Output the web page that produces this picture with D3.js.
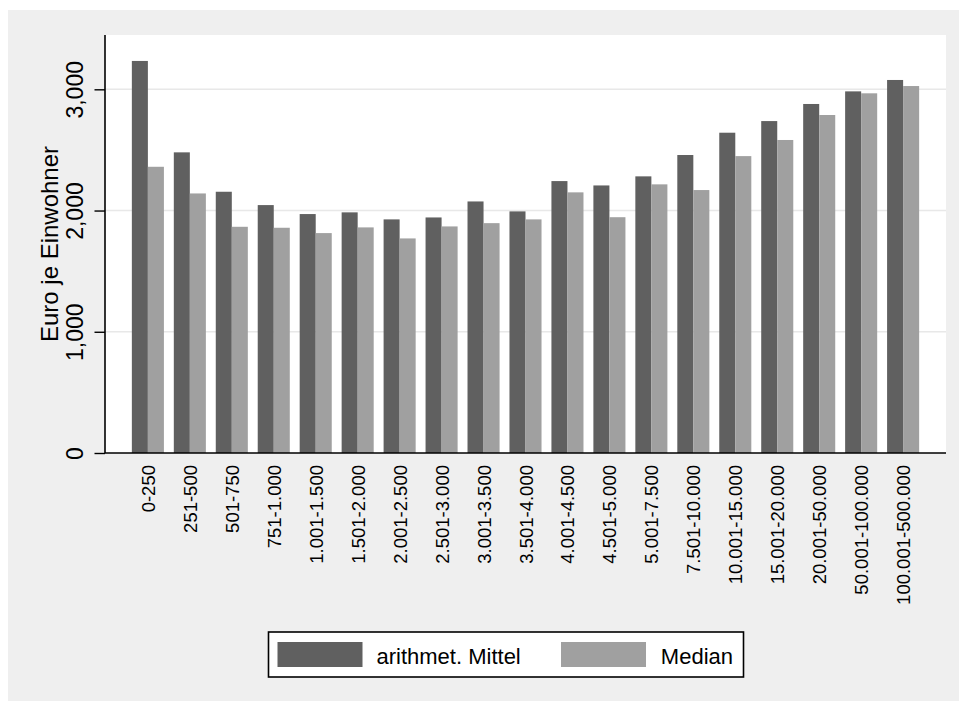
<!DOCTYPE html>
<html>
<head>
<meta charset="utf-8">
<script src="https://cdn.jsdelivr.net/npm/d3@7"></script>
<style>
  html, body { margin: 0; padding: 0; background: #fff; overflow: hidden; }
  svg { display: block; font-family: "Liberation Sans", Arial, sans-serif; }
</style>
</head>
<body>
<svg id="chart" width="959" height="701"></svg>
<script>
// Gemeindegrößenklassen (Einwohner)
const categories = [
  '0-250', '251-500', '501-750', '751-1.000', '1.001-1.500', '1.501-2.000',
  '2.001-2.500', '2.501-3.000', '3.001-3.500', '3.501-4.000', '4.001-4.500',
  '4.501-5.000', '5.001-7.500', '7.501-10.000', '10.001-15.000',
  '15.001-20.000', '20.001-50.000', '50.001-100.000', '100.001-500.000'
];
// Euro je Einwohner
const mittel = [3234, 2480, 2155, 2045, 1971, 1985, 1927, 1943, 2075, 1993,
  2243, 2207, 2282, 2458, 2642, 2738, 2879, 2983, 3077];
const median = [2361, 2141, 1866, 1858, 1814, 1861, 1770, 1869, 1896, 1927,
  2150, 1945, 2216, 2169, 2449, 2582, 2788, 2967, 3027];
const yTicks = [0, 1000, 2000, 3000];
const series = [
  { name: 'arithmet. Mittel', values: mittel, color: '#606060' },
  { name: 'Median', values: median, color: '#a0a0a0' }
];

const FONT = '"Liberation Sans", Arial, sans-serif';
const svg = d3.select('#chart');
const plot = { left: 105, right: 946, top: 35, bottom: 453 };

// outer gray background
svg.append('rect')
  .attr('x', 8).attr('y', 10).attr('width', 951).attr('height', 691)
  .attr('fill', '#efefef');

// plot region
svg.append('rect')
  .attr('x', plot.left).attr('y', plot.top)
  .attr('width', plot.right - plot.left).attr('height', plot.bottom - plot.top)
  .attr('fill', '#fff');

const x = d3.scaleBand()
  .domain(categories)
  .range([plot.left, plot.right])
  .paddingInner(0.236)
  .paddingOuter(0.64);

const xSub = d3.scaleBand()
  .domain(series.map(s => s.name))
  .range([0, x.bandwidth()]);

const y = d3.scaleLinear()
  .domain([0, 3448])
  .range([plot.bottom, plot.top]);

// gridlines
svg.append('g')
  .selectAll('line')
  .data(yTicks.filter(t => t > 0))
  .join('line')
  .attr('x1', plot.left).attr('x2', plot.right)
  .attr('y1', d => y(d)).attr('y2', d => y(d))
  .attr('stroke', '#e8e8e8').attr('stroke-width', 1.5);

// bars
const groups = svg.append('g')
  .selectAll('g')
  .data(categories)
  .join('g')
  .attr('transform', d => `translate(${x(d)},0)`);

groups.selectAll('rect')
  .data((d, i) => series.map(s => ({ key: s.name, v: s.values[i], color: s.color })))
  .join('rect')
  .attr('x', d => xSub(d.key))
  .attr('y', d => y(d.v))
  .attr('width', xSub.bandwidth())
  .attr('height', d => y(0) - y(d.v))
  .attr('fill', d => d.color);

// y axis
const yAxis = svg.append('g')
  .attr('transform', `translate(${plot.left},0)`)
  .call(d3.axisLeft(y).tickValues(yTicks).tickFormat(d3.format(',')).tickSize(10.5))
  .attr('font-family', FONT);
yAxis.select('.domain').attr('stroke', '#000').attr('stroke-width', 1.6)
  .attr('d', `M0,${plot.bottom}V${plot.top}`);
yAxis.selectAll('.tick line').attr('stroke', '#000').attr('stroke-width', 1.4);
yAxis.selectAll('.tick text')
  .attr('x', null).attr('dy', null)
  .attr('text-anchor', 'middle')
  .attr('transform', `translate(-22,0) rotate(-90)`)
  .attr('fill', '#000')
  .style('font-size', '23px');

// x axis
const xAxis = svg.append('g')
  .attr('transform', `translate(0,${plot.bottom})`)
  .call(d3.axisBottom(x).tickSize(0))
  .attr('font-family', FONT);
xAxis.select('.domain').attr('stroke', '#000').attr('stroke-width', 1.6)
  .attr('d', `M${plot.left},0H${plot.right}`);
xAxis.selectAll('.tick text')
  .attr('y', null).attr('dy', null)
  .attr('text-anchor', 'end')
  .attr('transform', 'translate(7,12) rotate(-90)')
  .attr('fill', '#000')
  .style('font-size', '18.5px');

// y title
svg.append('text')
  .attr('transform', `translate(58,${(plot.top + plot.bottom) / 2}) rotate(-90)`)
  .attr('text-anchor', 'middle')
  .style('font-size', '24px')
  .attr('fill', '#000')
  .text('Euro je Einwohner');

// legend
const legend = svg.append('g');
legend.append('rect')
  .attr('x', 268.5).attr('y', 632).attr('width', 475).attr('height', 45)
  .attr('fill', '#fff').attr('stroke', '#000').attr('stroke-width', 1.6);

const legendItems = [
  { swatchX: 277.5, textX: 376.5, anchor: 'start' },
  { swatchX: 561, textX: 733, anchor: 'end' }
];
legend.selectAll('g')
  .data(series)
  .join('g')
  .each(function (s, i) {
    const g = d3.select(this);
    const it = legendItems[i];
    g.append('rect')
      .attr('x', it.swatchX).attr('y', 642)
      .attr('width', 85).attr('height', 25)
      .attr('fill', s.color);
    g.append('text')
      .attr('x', it.textX).attr('y', 664)
      .attr('text-anchor', it.anchor)
      .style('font-size', '22px')
      .attr('fill', '#000')
      .text(s.name);
  });
</script>
</body>
</html>
